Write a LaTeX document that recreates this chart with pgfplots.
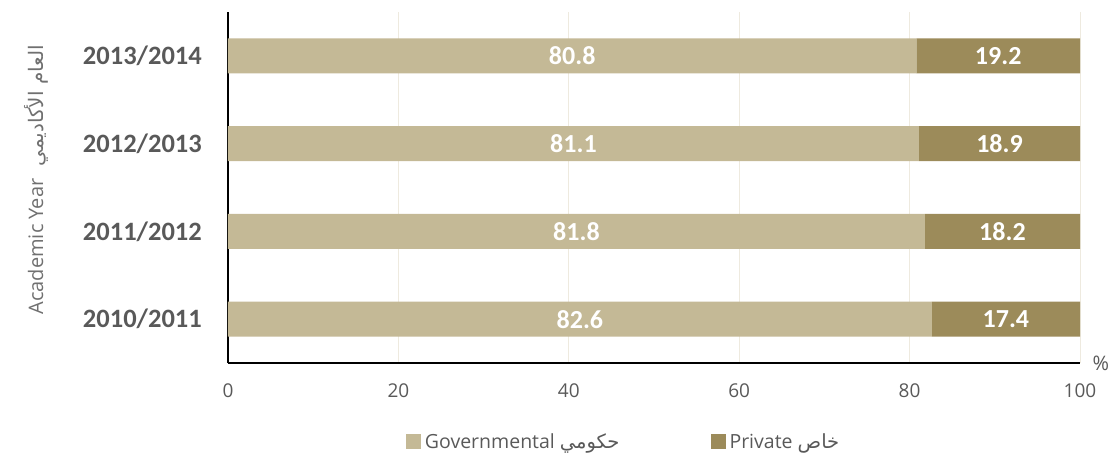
\documentclass[border=0pt]{standalone}
\usepackage{pgfplots}
\usepackage{pgfplotstable}
\pgfplotsset{compat=1.18}
\usepackage{fontspec}
\setmainfont{Carlito}
\newfontfamily\osans{Open Sans}
\newfontfamily\arabicfont[Script=Arabic]{DejaVu Sans}
\TeXXeTstate=1
\definecolor{gov}{HTML}{C4B996}
\definecolor{priv}{HTML}{9C8B5A}
\definecolor{gridc}{HTML}{EEEADF}
\definecolor{txt}{HTML}{595959}
\definecolor{ylc}{HTML}{707070}

\pgfplotstableread{
y gov priv
0 82.6 17.4
1 81.8 18.2
2 81.1 18.9
3 80.8 19.2
}\data

\begin{document}
\begin{tikzpicture}
\path[use as bounding box] (-228pt,-93pt) rectangle (883pt,363pt);
\begin{axis}[
  at={(0pt,0pt)}, anchor=south west,
  scale only axis, width=852pt, height=351pt,
  /pgf/number format/assume math mode=true,
  xbar stacked, bar width=35pt,
  xmin=0, xmax=100, ymin=-0.5, ymax=3.5,
  ytick={0,1,2,3},
  yticklabels={2010/2011,2011/2012,2012/2013,2013/2014},
  xtick={0,20,40,60,80,100},
  xmajorgrids, grid style={gridc, line width=1pt},
  axis lines*=left,
  axis line style={black, line width=1.2pt},
  major tick length=0pt,
  xticklabel style={font=\osans\fontsize{19}{19}\selectfont, text=txt, inner sep=0pt, yshift=-21pt},
  yticklabel style={font=\bfseries\fontsize{26.5}{26.5}\selectfont, text=txt, inner sep=0pt, anchor=east, xshift=-26pt},
  xlabel={\%},
  xlabel style={at={(axis description cs:1,0)}, anchor=west, xshift=9pt, font=\osans\fontsize{20}{20}\selectfont, text=txt},
  ylabel={{\osans Academic Year}\hspace{12pt}{\arabicfont\fontsize{20}{20}\selectfont\beginR العام الأكاديمي\endR}},
  ylabel style={at={(axis description cs:-0.2254,0.522)}, anchor=center, font=\fontsize{20}{20}\selectfont, text=ylc},
  legend style={at={(axis description cs:0.4655,-0.225)}, anchor=center, draw=none, fill=none,
    legend columns=2, font=\osans\fontsize{19.5}{19.5}\selectfont, text=txt,
    /tikz/every even column/.append style={column sep=88pt},
    /tikz/every node/.append style={inner xsep=3.5pt}},
  nodes near coords={\pgfmathprintnumber[fixed,precision=1,fixed zerofill]{\rawv}},
]
\addplot[fill=gov, draw=none,
  visualization depends on={\thisrow{gov} \as \rawv},
  every node near coord/.append style={anchor=center, font=\bfseries\fontsize{26}{26}\selectfont, text=white},
  legend image code/.code={\fill[gov] (0pt,-7.5pt) rectangle (15pt,7.5pt);}]
  table[x=gov, y=y] {\data};
\addlegendentry{Governmental {\arabicfont\beginR حكومي\endR}}
\addplot[fill=priv, draw=none,
  visualization depends on={\thisrow{priv} \as \rawv},
  every node near coord/.append style={anchor=center, font=\bfseries\fontsize{26}{26}\selectfont, text=white},
  legend image code/.code={\fill[priv] (0pt,-7.5pt) rectangle (15pt,7.5pt);}]
  table[x=priv, y=y] {\data};
\addlegendentry{Private {\arabicfont\beginR خاص\endR}}
\end{axis}
\end{tikzpicture}
\end{document}
